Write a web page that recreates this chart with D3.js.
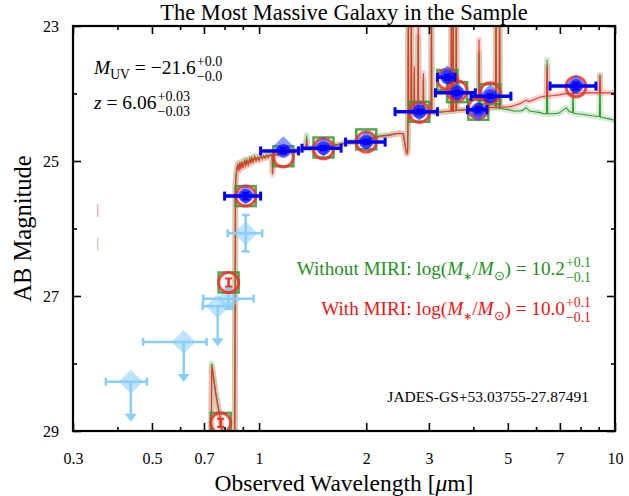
<!DOCTYPE html>
<html><head><meta charset="utf-8">
<script src="https://cdn.jsdelivr.net/npm/d3@7/dist/d3.min.js"></script>
<style>body{margin:0;background:#fff} text{font-family:"Liberation Serif","Times New Roman",serif}</style>
</head><body><svg id="c" width="629" height="496"></svg>
<script>
// ---------------- data ----------------
const xTicksMajor = [0.3,0.5,0.7,1,2,3,5,7,10];
const xTickLabels = ["0.3","0.5","0.7","1","2","3","5","7","10"];
const xTicksMinor = [0.4,0.6,0.8,0.9,4,6,8,9];
const yTicksMajor = [23,25,27,29];
const yTickLabels = ["23","25","27","29"];
const yTicksMinor = [24,26,28];

// observed NIRCam + MIRI photometry
const obsWave   = [0.917,1.17,1.517,2.0,2.82,3.38,3.60,4.13,4.46,7.77];
const obsWaveLo = [0.80,1.01,1.32,1.75,2.41,3.17,3.13,3.85,3.94,6.57];
const obsWaveHi = [1.01,1.29,1.70,2.26,3.17,3.55,4.05,4.36,5.10,8.84];
const obsMag    = [25.52,24.85,24.81,24.72,24.27,23.76,23.99,24.24,24.04,23.89];
const obsErr    = [0.05,0.04,0.03,0.03,0.03,0.04,0.03,0.04,0.03,0.05];
const obsDiamondMag = [25.50,24.78,24.79,24.70,24.26,23.73,23.98,24.27,24.01,23.87];

// model photometry
const greenModelWave = [0.917,1.17,1.517,2.0,2.82,3.38,3.60,4.13,4.46,0.78,0.821];
const greenModelMag  = [25.52,24.93,24.80,24.68,24.27,23.80,23.98,24.24,24.01,28.88,26.80];
const redModelWave = [0.917,1.17,1.517,2.0,2.82,3.38,3.60,4.13,4.46,7.77,0.78,0.821];
const redModelMag  = [25.52,24.94,24.82,24.72,24.28,23.79,23.96,24.22,23.99,23.90,28.88,26.80];
const redModelErr  = [0,0,0,0,0,0,0,0,0,0,0.06,0.06];

// HST photometry (light blue)
const hstWave   = [0.436,0.614,0.765,0.821,0.917];
const hstWaveLo = [0.371,0.472,0.694,0.697,0.816];
const hstWaveHi = [0.484,0.712,0.840,0.965,1.02];
const hstMag    = [28.27,27.68,27.15,27.04,26.07];
const hstErr    = [0,0,0,0.15,0.27];
const hstUpper  = [true,true,true,false,false];

// faint marks at left
const faintRed   = [[0.352,25.64],[0.352,25.83]];
const faintGreen = [[0.352,26.14],[0.352,26.32]];

// model spectra (common wavelength grid, AB mag)
const specWave = [0.30,0.733,0.736,0.741,0.755,0.770,0.785,0.800,0.854,0.858,0.862,0.867,0.871,0.877,0.882,0.888,0.893,0.902,0.911,0.917,
0.923,0.932,0.941,0.947,0.953,0.962,0.972,0.981,0.991,1.000,1.010,1.020,1.030,1.040,1.050,1.060,1.070,1.080,1.088,1.091,
1.094,1.100,1.142,1.179,1.218,1.258,1.300,1.342,1.355,1.360,1.365,1.386,1.430,1.479,1.530,1.577,1.630,1.682,1.740,1.795,
1.850,1.914,1.980,2.042,2.110,2.178,2.250,2.323,2.400,2.478,2.543,2.576,2.600,2.615,2.621,2.626,2.631,2.672,2.678,2.684,
2.725,2.730,2.735,2.794,2.800,2.806,2.890,2.895,2.900,3.044,3.050,3.056,3.300,3.463,3.470,3.477,3.503,3.510,3.517,3.573,
3.580,3.587,3.800,4.000,4.142,4.150,4.158,4.400,4.620,4.630,4.640,4.730,4.740,4.750,5.000,5.200,5.400,5.500,5.627,5.750,
5.926,6.119,6.320,6.420,6.445,6.470,6.741,6.962,7.285,7.450,7.600,7.622,7.645,7.822,8.184,8.600,9.040,9.072,9.105,9.309,
9.700,10.00];
const specRed = [29.6,29.6,28.05,28.15,28.45,28.70,28.95,29.30,29.6,25.40,25.22,25.12,25.05,25.15,25.03,25.12,25.02,25.10,24.99,25.08,
24.99,25.06,24.97,25.04,24.96,25.02,24.94,25.00,24.95,24.99,24.93,24.97,24.93,24.96,24.92,24.95,24.92,24.91,24.94,25.20,
24.95,24.92,24.90,24.89,24.87,24.86,24.84,24.82,24.80,24.70,24.80,24.82,24.81,24.80,24.79,24.78,24.77,24.76,24.74,24.73,
24.72,24.70,24.69,24.67,24.66,24.64,24.63,24.62,24.60,24.59,24.60,24.80,24.90,24.85,24.30,22.50,24.30,24.30,22.50,24.30,
24.30,23.60,24.30,24.30,22.50,24.30,24.29,23.70,24.29,24.28,22.50,24.28,24.27,24.26,22.50,24.26,24.26,22.50,24.26,24.25,
22.50,24.25,24.24,24.23,24.22,23.20,24.22,24.21,24.20,22.50,24.20,24.20,22.50,24.20,24.20,24.18,24.15,24.13,24.10,24.12,
24.09,24.06,24.04,24.04,23.60,24.04,24.03,24.02,24.00,24.01,24.00,23.90,24.00,24.00,23.99,23.99,23.99,23.73,23.99,23.99,
23.99,23.99];
const specGreen = [29.6,29.6,28.00,28.10,28.42,28.68,28.95,29.30,29.6,25.38,25.20,25.10,25.04,25.13,25.02,25.10,25.01,25.08,24.98,25.06,
24.98,25.04,24.96,25.02,24.95,25.00,24.93,24.98,24.94,24.97,24.92,24.96,24.92,24.95,24.91,24.93,24.90,24.90,24.92,25.15,
24.93,24.91,24.89,24.88,24.86,24.85,24.83,24.81,24.79,24.62,24.79,24.81,24.80,24.79,24.78,24.77,24.76,24.75,24.73,24.72,
24.71,24.69,24.68,24.66,24.65,24.63,24.62,24.61,24.60,24.59,24.60,24.78,24.88,24.83,24.30,22.50,24.30,24.30,22.80,24.30,
24.30,23.70,24.30,24.30,23.15,24.30,24.29,23.80,24.29,24.28,22.50,24.28,24.27,24.26,22.50,24.26,24.26,22.50,24.26,24.25,
22.70,24.25,24.24,24.23,24.22,23.40,24.22,24.21,24.21,22.50,24.21,24.22,22.50,24.22,24.24,24.26,24.26,24.25,24.21,24.26,
24.27,24.28,24.30,24.30,23.50,24.30,24.30,24.29,24.21,24.27,24.28,23.93,24.29,24.30,24.31,24.33,24.34,23.73,24.35,24.36,
24.38,24.40];

// ---------------- chart ----------------
const svg = d3.select("#c");
const L=73, R=615, T=26, B=431;
const x = d3.scaleLog().domain([0.3,10]).range([L,R]);
const y = d3.scaleLinear().domain([23,29]).range([T,B]);

const RED="#ee3326", GREEN="#2e9a2e", BLUE="#0000ff", LBLUE="#87cefa";

svg.append("defs").append("clipPath").attr("id","clip")
  .append("rect").attr("x",L).attr("y",T).attr("width",R-L).attr("height",B-T);
const plot = svg.append("g").attr("clip-path","url(#clip)");

// faint marks
[[faintRed,"#f6b0ac"],[faintGreen,"#b4dcb4"]].forEach(([d,c])=>{
  plot.append("line").attr("x1",x(d[0][0])).attr("x2",x(d[1][0])).attr("y1",y(d[0][1])).attr("y2",y(d[1][1]))
    .attr("stroke",c).attr("stroke-width",1.5);
});

// spectra
const specG = specWave.map((w,i)=>[w,specGreen[i]]);
const specR = specWave.map((w,i)=>[w,specRed[i]]);
const line = d3.line().x(d=>x(d[0])).y(d=>y(d[1]));
plot.append("path").attr("d",line(specG)).attr("fill","none").attr("stroke",GREEN).attr("stroke-opacity",0.2).attr("stroke-width",6).attr("stroke-linejoin","round");
plot.append("path").attr("d",line(specR)).attr("fill","none").attr("stroke",RED).attr("stroke-opacity",0.2).attr("stroke-width",6).attr("stroke-linejoin","round");
plot.append("path").attr("d",line(specG)).attr("fill","none").attr("stroke",GREEN).attr("stroke-width",1.1);
plot.append("path").attr("d",line(specR)).attr("fill","none").attr("stroke",RED).attr("stroke-width",1.1);

// HST light blue points
const gH = plot.append("g");
hstWave.forEach((w,i)=>{
  const cx=x(w), cy=y(hstMag[i]);
  gH.append("path").attr("d",`M${cx},${cy-12}L${cx+12},${cy}L${cx},${cy+12}L${cx-12},${cy}Z`).attr("fill",LBLUE).attr("fill-opacity",0.55);
  gH.append("line").attr("x1",x(hstWaveLo[i])).attr("x2",x(hstWaveHi[i])).attr("y1",cy).attr("y2",cy).attr("stroke",LBLUE).attr("stroke-width",2.5);
  [hstWaveLo[i],hstWaveHi[i]].forEach(v=>gH.append("line").attr("x1",x(v)).attr("x2",x(v)).attr("y1",cy-4).attr("y2",cy+4).attr("stroke",LBLUE).attr("stroke-width",2.5));
  if (hstUpper[i]) {
    gH.append("line").attr("x1",cx).attr("x2",cx).attr("y1",cy).attr("y2",cy+34).attr("stroke",LBLUE).attr("stroke-width",2.5);
    gH.append("path").attr("d",`M${cx-6},${cy+32}L${cx+6},${cy+32}L${cx},${cy+40}Z`).attr("fill",LBLUE);
  } else {
    const y1=y(hstMag[i]-hstErr[i]), y2=y(hstMag[i]+hstErr[i]);
    gH.append("line").attr("x1",cx).attr("x2",cx).attr("y1",y1).attr("y2",y2).attr("stroke",LBLUE).attr("stroke-width",2.5);
    [y1,y2].forEach(v=>gH.append("line").attr("x1",cx-4).attr("x2",cx+4).attr("y1",v).attr("y2",v).attr("stroke",LBLUE).attr("stroke-width",2.5));
  }
});

// green squares
greenModelWave.forEach((w,i)=>{
  plot.append("rect").attr("x",x(w)-10).attr("y",y(greenModelMag[i])-10).attr("width",20).attr("height",20)
    .attr("fill","none").attr("stroke",GREEN).attr("stroke-width",2.5).attr("stroke-opacity",0.85);
});
// red circles
redModelWave.forEach((w,i)=>{
  const cx=x(w), cy=y(redModelMag[i]);
  plot.append("circle").attr("cx",cx).attr("cy",cy).attr("r",10).attr("fill","none").attr("stroke",RED).attr("stroke-width",3).attr("stroke-opacity",0.85);
  if (redModelErr[i]>0) {
    const y1=y(redModelMag[i]-redModelErr[i]), y2=y(redModelMag[i]+redModelErr[i]);
    plot.append("line").attr("x1",cx).attr("x2",cx).attr("y1",y1).attr("y2",y2).attr("stroke",RED).attr("stroke-width",2.5);
    [y1,y2].forEach(v=>plot.append("line").attr("x1",cx-3.5).attr("x2",cx+3.5).attr("y1",v).attr("y2",v).attr("stroke",RED).attr("stroke-width",2));
  }
});
// blue diamonds
obsWave.forEach((w,i)=>{
  const cx=x(w), cy=y(obsDiamondMag[i]);
  plot.append("path").attr("d",`M${cx},${cy-10}L${cx+10},${cy}L${cx},${cy+10}L${cx-10},${cy}Z`).attr("fill","#3355ff").attr("fill-opacity",0.6);
});
// blue observed points with error bars
obsWave.forEach((w,i)=>{
  const cx=x(w), cy=y(obsMag[i]);
  plot.append("circle").attr("cx",cx).attr("cy",cy).attr("r",7).attr("fill",BLUE).attr("fill-opacity",0.6);
  plot.append("line").attr("x1",x(obsWaveLo[i])).attr("x2",x(obsWaveHi[i])).attr("y1",cy).attr("y2",cy).attr("stroke",BLUE).attr("stroke-width",3.5);
  [obsWaveLo[i],obsWaveHi[i]].forEach(v=>plot.append("line").attr("x1",x(v)).attr("x2",x(v)).attr("y1",cy-4.5).attr("y2",cy+4.5).attr("stroke",BLUE).attr("stroke-width",3));
  const y1=y(obsMag[i]-obsErr[i]), y2=y(obsMag[i]+obsErr[i]);
  plot.append("line").attr("x1",cx).attr("x2",cx).attr("y1",y1).attr("y2",y2).attr("stroke",BLUE).attr("stroke-width",2.5);
  [y1,y2].forEach(v=>plot.append("line").attr("x1",cx-3.5).attr("x2",cx+3.5).attr("y1",v).attr("y2",v).attr("stroke",BLUE).attr("stroke-width",2));
});

// ---------------- axes ----------------
function styleAxis(g){ g.select(".domain").remove(); g.selectAll(".tick line").attr("stroke","#000").attr("stroke-width",1.6); g.selectAll("text").attr("font-size",16).attr("font-family","Liberation Serif, serif").attr("fill","#000"); }
svg.append("g").attr("transform",`translate(0,${B})`)
  .call(d3.axisBottom(x).tickValues(xTicksMajor).tickFormat((d,i)=>xTickLabels[i]).tickSizeInner(-8).tickSizeOuter(0).tickPadding(22)).call(styleAxis);
svg.append("g").attr("transform",`translate(0,${B})`)
  .call(d3.axisBottom(x).tickValues(xTicksMinor).tickFormat("").tickSizeInner(-4).tickSizeOuter(0)).call(styleAxis);
svg.append("g").attr("transform",`translate(0,${T})`)
  .call(d3.axisTop(x).tickValues(xTicksMajor).tickFormat("").tickSizeInner(-8).tickSizeOuter(0)).call(styleAxis);
svg.append("g").attr("transform",`translate(0,${T})`)
  .call(d3.axisTop(x).tickValues(xTicksMinor).tickFormat("").tickSizeInner(-4).tickSizeOuter(0)).call(styleAxis);
svg.append("g").attr("transform",`translate(${L},0)`)
  .call(d3.axisLeft(y).tickValues(yTicksMajor).tickFormat((d,i)=>yTickLabels[i]).tickSizeInner(-8).tickSizeOuter(0).tickPadding(14)).call(styleAxis);
svg.append("g").attr("transform",`translate(${L},0)`)
  .call(d3.axisLeft(y).tickValues(yTicksMinor).tickFormat("").tickSizeInner(-4).tickSizeOuter(0)).call(styleAxis);
svg.append("g").attr("transform",`translate(${R},0)`)
  .call(d3.axisRight(y).tickValues(yTicksMajor).tickFormat("").tickSizeInner(-8).tickSizeOuter(0)).call(styleAxis);
svg.append("g").attr("transform",`translate(${R},0)`)
  .call(d3.axisRight(y).tickValues(yTicksMinor).tickFormat("").tickSizeInner(-4).tickSizeOuter(0)).call(styleAxis);
svg.append("rect").attr("x",L).attr("y",T).attr("width",R-L).attr("height",B-T).attr("fill","none").attr("stroke","#000").attr("stroke-width",2.2);

// ---------------- text ----------------
svg.append("text").attr("x",(L+R)/2).attr("y",20).attr("text-anchor","middle").attr("font-size",22.5).text("The Most Massive Galaxy in the Sample");
const xl = svg.append("text").attr("x",(L+R)/2).attr("y",491).attr("text-anchor","middle").attr("font-size",23.5);
xl.append("tspan").text("Observed Wavelength [");
xl.append("tspan").attr("font-style","italic").text("μ");
xl.append("tspan").text("m]");
svg.append("text").attr("transform",`translate(31,${(T+B)/2}) rotate(-90)`).attr("text-anchor","middle").attr("font-size",24.5).text("AB Magnitude");

function rich(x0, yb, size, color, segs, sup, sub, anchorRight){
  const g = svg.append("g");
  const t = g.append("text").attr("x",0).attr("y",0).attr("font-size",size).attr("fill",color);
  let off = 0;
  segs.forEach(s=>{
    const ts = t.append("tspan").text(s.t);
    if (s.it) ts.attr("font-style","italic");
    const target = s.sub ? size*0.25 : 0;
    if (s.sub) ts.attr("font-size",size*(s.small?0.55:0.7));
    if (target!==off){ ts.attr("dy",target-off); off=target; }
  });
  const w = t.node().getComputedTextLength();
  const ss = size*0.72;
  const a = g.append("text").attr("x",w+1).attr("y",-size*0.42).attr("font-size",ss).attr("fill",color).text(sup);
  const b = g.append("text").attr("x",w+1).attr("y",size*0.34).attr("font-size",ss).attr("fill",color).text(sub);
  const tw = w+1+Math.max(a.node().getComputedTextLength(), b.node().getComputedTextLength());
  g.attr("transform",`translate(${anchorRight? x0-tw : x0},${yb})`);
}
rich(94,74,19.5,"#000",[{t:"M",it:1},{t:"UV",sub:1},{t:" = −21.6"}],"+0.0","−0.0",false);
rich(94,109,19.5,"#000",[{t:"z",it:1},{t:" = 6.06"}],"+0.03","−0.03",false);
rich(591,275,19.2,"#1f8f1f",[{t:"Without MIRI: log("},{t:"M",it:1},{t:"∗",sub:1,small:1},{t:"/"},{t:"M",it:1},{t:"⊙",sub:1},{t:") = 10.2"}],"+0.1","−0.1",true);
rich(591,315,19.2,"#f01414",[{t:"With MIRI: log("},{t:"M",it:1},{t:"∗",sub:1,small:1},{t:"/"},{t:"M",it:1},{t:"⊙",sub:1},{t:") = 10.0"}],"+0.1","−0.1",true);
svg.append("text").attr("x",589).attr("y",402).attr("text-anchor","end").attr("font-size",15.5).text("JADES-GS+53.03755-27.87491");
</script></body></html>
